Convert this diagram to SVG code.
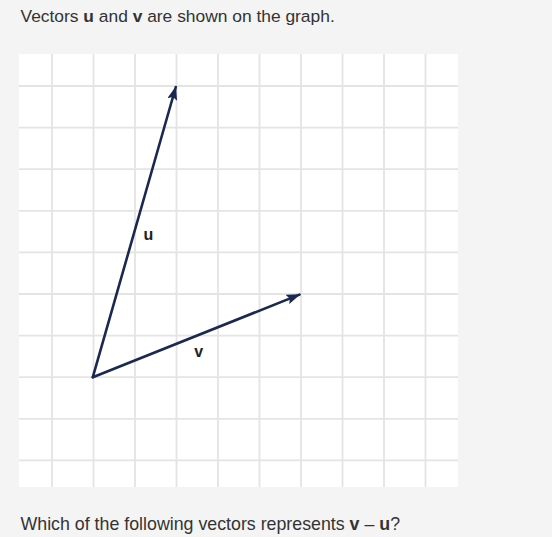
<svg xmlns="http://www.w3.org/2000/svg" width="552" height="537" viewBox="0 0 552 537">
  <style>
    .txt { font-family: "Liberation Sans", Arial, sans-serif; font-size: 17.4px; fill: #333333; }
    .txt2 { font-size: 17.8px; }
    .b { font-weight: bold; }
    .grid line { stroke: #e4e4e4; stroke-width: 1.8; }
    .vec { stroke: #1b2850; stroke-width: 2.6; fill: none; stroke-linecap: round; }
    .lbl { font-family: "Liberation Sans", Arial, sans-serif; font-size: 16px; font-weight: bold; fill: #222222; text-anchor: middle; }
  </style>
  <defs>
    <marker id="arrow" markerUnits="userSpaceOnUse" viewBox="0 0 14 10" refX="13" refY="5" markerWidth="14" markerHeight="10" orient="auto">
      <path d="M0,0 L14,5 L0,10 L2.5,5 z" fill="#1b2850"/>
    </marker>
  </defs>
  <rect x="0" y="0" width="552" height="537" fill="#f4f4f4"/>
  <text class="txt" x="20.5" y="22">Vectors <tspan class="b">u</tspan> and <tspan class="b">v</tspan> are shown on the graph.</text>

  <g id="grid" class="grid">
    <rect x="19" y="54" width="439" height="433" fill="#ffffff"/>
    <line x1="52" y1="54" x2="52" y2="487"/>
    <line x1="93.5" y1="54" x2="93.5" y2="487"/>
    <line x1="135" y1="54" x2="135" y2="487"/>
    <line x1="176.5" y1="54" x2="176.5" y2="487"/>
    <line x1="218" y1="54" x2="218" y2="487"/>
    <line x1="259.5" y1="54" x2="259.5" y2="487"/>
    <line x1="301" y1="54" x2="301" y2="487"/>
    <line x1="342.5" y1="54" x2="342.5" y2="487"/>
    <line x1="384" y1="54" x2="384" y2="487"/>
    <line x1="425.5" y1="54" x2="425.5" y2="487"/>
    <line x1="19" y1="86" x2="458" y2="86"/>
    <line x1="19" y1="127.6" x2="458" y2="127.6"/>
    <line x1="19" y1="169.2" x2="458" y2="169.2"/>
    <line x1="19" y1="210.8" x2="458" y2="210.8"/>
    <line x1="19" y1="252.4" x2="458" y2="252.4"/>
    <line x1="19" y1="294" x2="458" y2="294"/>
    <line x1="19" y1="335.6" x2="458" y2="335.6"/>
    <line x1="19" y1="377.2" x2="458" y2="377.2"/>
    <line x1="19" y1="418.8" x2="458" y2="418.8"/>
    <line x1="19" y1="460.4" x2="458" y2="460.4"/>
  </g>

  <g id="connectors">
    <line id="vec-u" class="vec" x1="92.8" y1="377.2" x2="175.8" y2="87" marker-end="url(#arrow)"/>
    <line id="vec-v" class="vec" x1="92.8" y1="377.2" x2="299.5" y2="294.6" marker-end="url(#arrow)"/>
  </g>

  <g id="label-u"><text class="lbl" x="148.5" y="240">u</text></g>
  <g id="label-v"><text class="lbl" x="198.7" y="356.5">v</text></g>

  <text class="txt txt2" x="20.5" y="530">Which of the following vectors represents <tspan class="b">v</tspan> – <tspan class="b">u</tspan>?</text>
</svg>
